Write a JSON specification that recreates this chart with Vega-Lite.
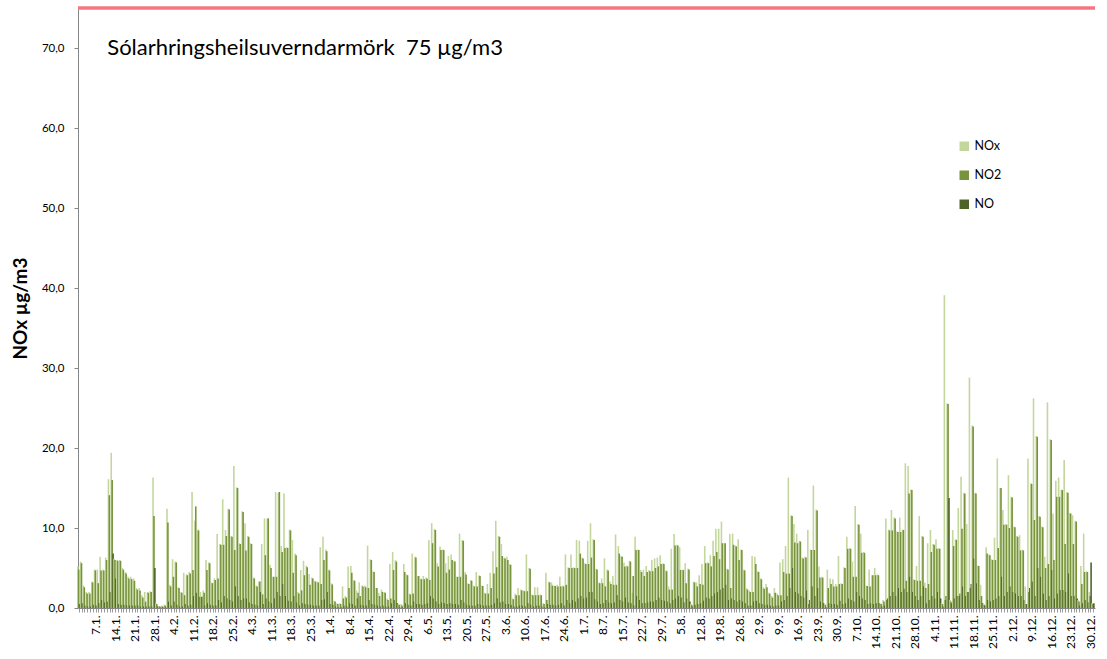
{
"$schema": "https://vega.github.io/schema/vega-lite/v6.json",
"width": 1017,
"height": 600,
"autosize": {"type": "none"},
"padding": {"left": 78, "top": 8, "right": 12, "bottom": 51},
"background": "white",
"config": {"view": {"stroke": null}, "font": "Lato"},
"datasets": {"days": [
{"d":"1.1.","NOx":5.2,"NO2":4.8,"NO":0.5},{"d":"2.1.","NOx":5.8,"NO2":5.6,"NO":0.6},{"d":"3.1.","NOx":2.8,"NO2":2.6,"NO":0.3},{"d":"4.1.","NOx":2.0,"NO2":1.8,"NO":0.2},{"d":"5.1.","NOx":2.0,"NO2":1.8,"NO":0.2},{"d":"6.1.","NOx":3.3,"NO2":3.2,"NO":0.4},{"d":"7.1.","NOx":4.8,"NO2":4.7,"NO":0.3},{"d":"8.1.","NOx":4.8,"NO2":3.1,"NO":0.6},{"d":"9.1.","NOx":6.4,"NO2":4.7,"NO":1.0},{"d":"10.1.","NOx":4.8,"NO2":4.7,"NO":0.7},
{"d":"11.1.","NOx":6.3,"NO2":6.0,"NO":0.8},{"d":"12.1.","NOx":16.1,"NO2":14.1,"NO":2.0},{"d":"13.1.","NOx":19.4,"NO2":16.0,"NO":6.8},{"d":"14.1.","NOx":6.2,"NO2":6.0,"NO":3.7},{"d":"15.1.","NOx":6.0,"NO2":5.9,"NO":0.5},{"d":"16.1.","NOx":6.0,"NO2":5.9,"NO":0.4},{"d":"17.1.","NOx":5.0,"NO2":4.8,"NO":0.4},{"d":"18.1.","NOx":4.5,"NO2":4.3,"NO":0.3},{"d":"19.1.","NOx":3.9,"NO2":3.7,"NO":0.3},{"d":"20.1.","NOx":3.9,"NO2":3.6,"NO":0.3},
{"d":"21.1.","NOx":3.7,"NO2":3.4,"NO":0.3},{"d":"22.1.","NOx":2.5,"NO2":2.3,"NO":0.3},{"d":"23.1.","NOx":2.5,"NO2":2.2,"NO":0.2},{"d":"24.1.","NOx":1.6,"NO2":1.3,"NO":0.2},{"d":"25.1.","NOx":2.0,"NO2":0.8,"NO":0.2},{"d":"26.1.","NOx":2.0,"NO2":1.9,"NO":0.2},{"d":"27.1.","NOx":2.1,"NO2":2.0,"NO":0.2},{"d":"28.1.","NOx":16.3,"NO2":11.5,"NO":5.0},{"d":"29.1.","NOx":0.6,"NO2":0.5,"NO":0.2},{"d":"30.1.","NOx":0.2,"NO2":0.2,"NO":0.1},
{"d":"31.1.","NOx":0.3,"NO2":0.2,"NO":0.1},{"d":"1.2.","NOx":0.4,"NO2":0.3,"NO":0.1},{"d":"2.2.","NOx":12.4,"NO2":10.7,"NO":0.8},{"d":"3.2.","NOx":2.9,"NO2":2.7,"NO":0.3},{"d":"4.2.","NOx":6.1,"NO2":3.9,"NO":0.8},{"d":"5.2.","NOx":5.8,"NO2":5.7,"NO":0.4},{"d":"6.2.","NOx":2.6,"NO2":2.5,"NO":0.2},{"d":"7.2.","NOx":2.0,"NO2":1.9,"NO":0.2},{"d":"8.2.","NOx":4.4,"NO2":1.6,"NO":0.5},{"d":"9.2.","NOx":4.2,"NO2":4.1,"NO":0.3},
{"d":"10.2.","NOx":4.5,"NO2":4.3,"NO":0.4},{"d":"11.2.","NOx":14.5,"NO2":4.75,"NO":1.5},{"d":"12.2.","NOx":10.9,"NO2":12.7,"NO":1.9},{"d":"13.2.","NOx":9.8,"NO2":9.7,"NO":1.4},{"d":"14.2.","NOx":2.0,"NO2":1.4,"NO":1.4},{"d":"15.2.","NOx":2.2,"NO2":1.9,"NO":0.3},{"d":"16.2.","NOx":6.0,"NO2":4.75,"NO":0.6},{"d":"17.2.","NOx":5.7,"NO2":5.6,"NO":0.4},{"d":"18.2.","NOx":3.2,"NO2":3.1,"NO":0.3},{"d":"19.2.","NOx":3.7,"NO2":3.5,"NO":0.3},
{"d":"20.2.","NOx":9.25,"NO2":3.7,"NO":1.0},{"d":"21.2.","NOx":8.0,"NO2":7.9,"NO":0.7},{"d":"22.2.","NOx":13.6,"NO2":7.9,"NO":1.5},{"d":"23.2.","NOx":9.75,"NO2":9.0,"NO":1.2},{"d":"24.2.","NOx":12.4,"NO2":12.3,"NO":1.0},{"d":"25.2.","NOx":9.0,"NO2":8.9,"NO":0.8},{"d":"26.2.","NOx":17.75,"NO2":7.25,"NO":2.7},{"d":"27.2.","NOx":15.1,"NO2":15.0,"NO":1.5},{"d":"28.2.","NOx":8.1,"NO2":8.0,"NO":1.0},
{"d":"1.3.","NOx":12.1,"NO2":12.0,"NO":1.2},{"d":"2.3.","NOx":10.6,"NO2":7.2,"NO":1.2},{"d":"3.3.","NOx":9.0,"NO2":8.9,"NO":0.7},{"d":"4.3.","NOx":8.1,"NO2":8.0,"NO":0.5},{"d":"5.3.","NOx":3.8,"NO2":3.7,"NO":0.4},{"d":"6.3.","NOx":2.8,"NO2":2.7,"NO":0.3},{"d":"7.3.","NOx":3.3,"NO2":3.3,"NO":2.0},{"d":"8.3.","NOx":8.0,"NO2":1.7,"NO":0.5},{"d":"9.3.","NOx":11.2,"NO2":6.6,"NO":1.2},{"d":"10.3.","NOx":11.2,"NO2":11.2,"NO":0.8},
{"d":"11.3.","NOx":5.4,"NO2":5.0,"NO":0.6},{"d":"12.3.","NOx":3.9,"NO2":3.9,"NO":1.2},{"d":"13.3.","NOx":14.5,"NO2":3.9,"NO":2.0},{"d":"14.3.","NOx":14.4,"NO2":14.5,"NO":1.5},{"d":"15.3.","NOx":7.75,"NO2":7.0,"NO":3.0},{"d":"16.3.","NOx":14.3,"NO2":7.5,"NO":1.5},{"d":"17.3.","NOx":7.6,"NO2":7.5,"NO":0.9},{"d":"18.3.","NOx":9.8,"NO2":9.7,"NO":0.8},{"d":"19.3.","NOx":8.5,"NO2":4.4,"NO":1.5},{"d":"20.3.","NOx":6.8,"NO2":6.6,"NO":0.7},
{"d":"21.3.","NOx":2.0,"NO2":1.8,"NO":0.3},{"d":"22.3.","NOx":4.75,"NO2":2.2,"NO":0.6},{"d":"23.3.","NOx":5.9,"NO2":4.1,"NO":0.5},{"d":"24.3.","NOx":5.3,"NO2":5.1,"NO":0.4},{"d":"25.3.","NOx":4.25,"NO2":2.9,"NO":0.4},{"d":"26.3.","NOx":3.8,"NO2":3.7,"NO":0.3},{"d":"27.3.","NOx":3.4,"NO2":3.3,"NO":0.3},{"d":"28.3.","NOx":3.3,"NO2":3.2,"NO":0.3},{"d":"29.3.","NOx":7.6,"NO2":3.0,"NO":1.0},{"d":"30.3.","NOx":8.9,"NO2":6.0,"NO":1.1},
{"d":"31.3.","NOx":7.3,"NO2":7.1,"NO":2.0},{"d":"1.4.","NOx":4.8,"NO2":4.7,"NO":0.5},{"d":"2.4.","NOx":3.1,"NO2":2.95,"NO":0.4},{"d":"3.4.","NOx":0.9,"NO2":0.8,"NO":0.2},{"d":"4.4.","NOx":0.6,"NO2":0.5,"NO":0.1},{"d":"5.4.","NOx":0.6,"NO2":0.5,"NO":0.1},{"d":"6.4.","NOx":2.7,"NO2":1.2,"NO":0.3},{"d":"7.4.","NOx":1.5,"NO2":1.3,"NO":0.2},{"d":"8.4.","NOx":5.2,"NO2":2.5,"NO":0.6},{"d":"9.4.","NOx":5.25,"NO2":4.4,"NO":0.5},
{"d":"10.4.","NOx":3.5,"NO2":3.4,"NO":0.3},{"d":"11.4.","NOx":2.2,"NO2":1.2,"NO":1.9},{"d":"12.4.","NOx":3.2,"NO2":1.5,"NO":0.4},{"d":"13.4.","NOx":2.8,"NO2":2.7,"NO":0.3},{"d":"14.4.","NOx":2.8,"NO2":2.6,"NO":0.3},{"d":"15.4.","NOx":7.8,"NO2":2.5,"NO":1.0},{"d":"16.4.","NOx":6.1,"NO2":6.0,"NO":0.5},{"d":"17.4.","NOx":4.6,"NO2":4.5,"NO":0.4},{"d":"18.4.","NOx":2.5,"NO2":2.5,"NO":0.3},{"d":"19.4.","NOx":1.9,"NO2":1.5,"NO":0.2},
{"d":"20.4.","NOx":2.3,"NO2":2.0,"NO":0.3},{"d":"21.4.","NOx":2.0,"NO2":1.9,"NO":0.2},{"d":"22.4.","NOx":1.2,"NO2":1.0,"NO":0.2},{"d":"23.4.","NOx":5.5,"NO2":1.2,"NO":0.6},{"d":"24.4.","NOx":7.0,"NO2":4.75,"NO":1.0},{"d":"25.4.","NOx":6.0,"NO2":5.8,"NO":0.6},{"d":"26.4.","NOx":0.5,"NO2":0.4,"NO":0.1},{"d":"27.4.","NOx":0.5,"NO2":0.3,"NO":0.1},{"d":"28.4.","NOx":5.5,"NO2":4.5,"NO":0.6},{"d":"29.4.","NOx":4.2,"NO2":4.1,"NO":0.4},
{"d":"30.4.","NOx":1.8,"NO2":1.7,"NO":0.3},{"d":"1.5.","NOx":6.8,"NO2":1.8,"NO":0.8},{"d":"2.5.","NOx":6.4,"NO2":6.3,"NO":0.5},{"d":"3.5.","NOx":4.0,"NO2":4.0,"NO":0.5},{"d":"4.5.","NOx":3.7,"NO2":3.6,"NO":0.4},{"d":"5.5.","NOx":4.0,"NO2":3.6,"NO":0.5},{"d":"6.5.","NOx":3.8,"NO2":3.7,"NO":0.6},{"d":"7.5.","NOx":8.5,"NO2":3.5,"NO":1.5},{"d":"8.5.","NOx":10.6,"NO2":8.1,"NO":1.2},{"d":"9.5.","NOx":9.9,"NO2":9.75,"NO":0.8},
{"d":"10.5.","NOx":5.6,"NO2":5.2,"NO":0.5},{"d":"11.5.","NOx":7.7,"NO2":7.25,"NO":0.7},{"d":"12.5.","NOx":7.3,"NO2":7.25,"NO":0.6},{"d":"13.5.","NOx":5.6,"NO2":4.4,"NO":0.5},{"d":"14.5.","NOx":6.5,"NO2":4.8,"NO":0.6},{"d":"15.5.","NOx":6.7,"NO2":6.0,"NO":0.5},{"d":"16.5.","NOx":5.9,"NO2":5.8,"NO":0.5},{"d":"17.5.","NOx":3.9,"NO2":3.9,"NO":0.4},{"d":"18.5.","NOx":9.3,"NO2":3.9,"NO":1.0},{"d":"19.5.","NOx":8.5,"NO2":8.4,"NO":0.7},
{"d":"20.5.","NOx":4.5,"NO2":4.2,"NO":0.4},{"d":"21.5.","NOx":3.1,"NO2":3.0,"NO":0.3},{"d":"22.5.","NOx":3.5,"NO2":3.4,"NO":0.3},{"d":"23.5.","NOx":2.8,"NO2":2.7,"NO":0.3},{"d":"24.5.","NOx":4.5,"NO2":2.7,"NO":0.5},{"d":"25.5.","NOx":4.1,"NO2":4.0,"NO":0.4},{"d":"26.5.","NOx":2.8,"NO2":2.75,"NO":0.3},{"d":"27.5.","NOx":1.9,"NO2":1.8,"NO":0.3},{"d":"28.5.","NOx":3.0,"NO2":1.8,"NO":0.3},{"d":"29.5.","NOx":4.4,"NO2":2.5,"NO":0.4},
{"d":"30.5.","NOx":7.1,"NO2":4.3,"NO":0.6},{"d":"31.5.","NOx":10.9,"NO2":5.1,"NO":1.2},{"d":"1.6.","NOx":9.0,"NO2":8.9,"NO":0.7},{"d":"2.6.","NOx":8.0,"NO2":6.5,"NO":0.8},{"d":"3.6.","NOx":6.3,"NO2":6.2,"NO":0.5},{"d":"4.6.","NOx":6.4,"NO2":6.0,"NO":0.5},{"d":"5.6.","NOx":5.5,"NO2":5.4,"NO":0.4},{"d":"6.6.","NOx":1.2,"NO2":1.1,"NO":0.2},{"d":"7.6.","NOx":1.8,"NO2":1.6,"NO":0.2},{"d":"8.6.","NOx":2.5,"NO2":1.6,"NO":0.3},
{"d":"9.6.","NOx":2.3,"NO2":2.2,"NO":0.3},{"d":"10.6.","NOx":2.2,"NO2":2.1,"NO":0.2},{"d":"11.6.","NOx":6.7,"NO2":2.1,"NO":0.6},{"d":"12.6.","NOx":5.0,"NO2":4.9,"NO":0.4},{"d":"13.6.","NOx":1.7,"NO2":1.6,"NO":0.2},{"d":"14.6.","NOx":2.6,"NO2":1.6,"NO":0.3},{"d":"15.6.","NOx":2.6,"NO2":1.6,"NO":0.3},{"d":"16.6.","NOx":1.7,"NO2":1.6,"NO":0.2},{"d":"17.6.","NOx":0.6,"NO2":0.5,"NO":0.1},{"d":"18.6.","NOx":4.4,"NO2":1.0,"NO":0.5},
{"d":"19.6.","NOx":3.3,"NO2":3.2,"NO":0.4},{"d":"20.6.","NOx":3.2,"NO2":2.8,"NO":0.4},{"d":"21.6.","NOx":2.8,"NO2":2.75,"NO":0.3},{"d":"22.6.","NOx":2.9,"NO2":2.7,"NO":0.4},{"d":"23.6.","NOx":3.9,"NO2":2.7,"NO":0.6},{"d":"24.6.","NOx":2.8,"NO2":2.7,"NO":0.3},{"d":"25.6.","NOx":6.7,"NO2":2.9,"NO":1.0},{"d":"26.6.","NOx":5.1,"NO2":5.0,"NO":0.6},{"d":"27.6.","NOx":6.7,"NO2":5.0,"NO":1.0},{"d":"28.6.","NOx":5.1,"NO2":5.0,"NO":0.8},
{"d":"29.6.","NOx":8.5,"NO2":5.0,"NO":1.2},{"d":"30.6.","NOx":8.4,"NO2":6.8,"NO":1.5},{"d":"1.7.","NOx":6.3,"NO2":6.2,"NO":1.2},{"d":"2.7.","NOx":5.6,"NO2":5.5,"NO":1.3},{"d":"3.7.","NOx":8.4,"NO2":5.5,"NO":2.0},{"d":"4.7.","NOx":10.6,"NO2":6.3,"NO":2.0},{"d":"5.7.","NOx":8.6,"NO2":8.5,"NO":1.1},{"d":"6.7.","NOx":4.9,"NO2":4.8,"NO":0.8},{"d":"7.7.","NOx":3.2,"NO2":3.1,"NO":0.5},{"d":"8.7.","NOx":3.7,"NO2":3.1,"NO":0.6},
{"d":"9.7.","NOx":6.2,"NO2":2.7,"NO":1.0},{"d":"10.7.","NOx":4.8,"NO2":4.7,"NO":0.7},{"d":"11.7.","NOx":3.3,"NO2":3.0,"NO":0.6},{"d":"12.7.","NOx":4.0,"NO2":2.9,"NO":0.7},{"d":"13.7.","NOx":9.2,"NO2":2.9,"NO":1.6},{"d":"14.7.","NOx":7.75,"NO2":6.8,"NO":1.0},{"d":"15.7.","NOx":6.5,"NO2":6.4,"NO":0.8},{"d":"16.7.","NOx":5.7,"NO2":5.2,"NO":1.3},{"d":"17.7.","NOx":5.3,"NO2":5.2,"NO":0.7},{"d":"18.7.","NOx":5.9,"NO2":5.8,"NO":0.6},
{"d":"19.7.","NOx":1.9,"NO2":4.0,"NO":0.3},{"d":"20.7.","NOx":8.9,"NO2":7.25,"NO":1.5},{"d":"21.7.","NOx":7.3,"NO2":7.25,"NO":1.0},{"d":"22.7.","NOx":4.75,"NO2":4.5,"NO":0.6},{"d":"23.7.","NOx":4.8,"NO2":4.0,"NO":0.6},{"d":"24.7.","NOx":5.25,"NO2":4.5,"NO":0.7},{"d":"25.7.","NOx":4.75,"NO2":4.6,"NO":0.8},{"d":"26.7.","NOx":6.0,"NO2":4.6,"NO":0.8},{"d":"27.7.","NOx":6.2,"NO2":5.0,"NO":1.0},{"d":"28.7.","NOx":6.3,"NO2":5.2,"NO":1.3},
{"d":"29.7.","NOx":6.6,"NO2":5.5,"NO":1.0},{"d":"30.7.","NOx":5.6,"NO2":5.5,"NO":0.9},{"d":"31.7.","NOx":4.7,"NO2":4.6,"NO":0.8},{"d":"1.8.","NOx":2.7,"NO2":2.3,"NO":0.6},{"d":"2.8.","NOx":7.4,"NO2":2.3,"NO":1.0},{"d":"3.8.","NOx":9.25,"NO2":7.8,"NO":1.2},{"d":"4.8.","NOx":7.9,"NO2":7.8,"NO":1.5},{"d":"5.8.","NOx":7.6,"NO2":4.75,"NO":1.3},{"d":"6.8.","NOx":4.8,"NO2":4.75,"NO":0.7},{"d":"7.8.","NOx":5.6,"NO2":3.1,"NO":1.2},
{"d":"8.8.","NOx":4.9,"NO2":4.8,"NO":0.8},{"d":"9.8.","NOx":0.5,"NO2":0.4,"NO":0.2},{"d":"10.8.","NOx":3.3,"NO2":3.2,"NO":0.4},{"d":"11.8.","NOx":3.2,"NO2":2.7,"NO":0.5},{"d":"12.8.","NOx":4.1,"NO2":3.0,"NO":0.6},{"d":"13.8.","NOx":5.5,"NO2":2.9,"NO":0.9},{"d":"14.8.","NOx":7.75,"NO2":5.6,"NO":1.3},{"d":"15.8.","NOx":5.7,"NO2":5.6,"NO":1.2},{"d":"16.8.","NOx":6.6,"NO2":5.2,"NO":1.5},{"d":"17.8.","NOx":8.4,"NO2":6.5,"NO":1.8},
{"d":"18.8.","NOx":9.9,"NO2":7.0,"NO":2.0},{"d":"19.8.","NOx":9.9,"NO2":6.1,"NO":2.3},{"d":"20.8.","NOx":10.8,"NO2":8.1,"NO":2.5},{"d":"21.8.","NOx":8.1,"NO2":8.1,"NO":2.9},{"d":"22.8.","NOx":4.9,"NO2":4.8,"NO":1.0},{"d":"23.8.","NOx":9.25,"NO2":2.5,"NO":1.2},{"d":"24.8.","NOx":9.3,"NO2":7.9,"NO":1.0},{"d":"25.8.","NOx":7.8,"NO2":7.7,"NO":0.8},{"d":"26.8.","NOx":8.6,"NO2":6.0,"NO":1.0},{"d":"27.8.","NOx":7.3,"NO2":7.25,"NO":0.8},
{"d":"28.8.","NOx":4.8,"NO2":4.7,"NO":0.6},{"d":"29.8.","NOx":2.5,"NO2":2.3,"NO":0.3},{"d":"30.8.","NOx":2.2,"NO2":2.0,"NO":0.3},{"d":"31.8.","NOx":6.5,"NO2":2.0,"NO":0.8},{"d":"1.9.","NOx":6.4,"NO2":5.5,"NO":0.9},{"d":"2.9.","NOx":4.6,"NO2":4.5,"NO":0.6},{"d":"3.9.","NOx":3.7,"NO2":3.6,"NO":0.5},{"d":"4.9.","NOx":2.6,"NO2":2.4,"NO":0.4},{"d":"5.9.","NOx":3.0,"NO2":2.6,"NO":0.4},{"d":"6.9.","NOx":1.9,"NO2":1.8,"NO":0.3},
{"d":"7.9.","NOx":1.5,"NO2":1.3,"NO":0.2},{"d":"8.9.","NOx":2.5,"NO2":1.9,"NO":0.3},{"d":"9.9.","NOx":1.8,"NO2":1.6,"NO":0.3},{"d":"10.9.","NOx":5.7,"NO2":1.6,"NO":0.8},{"d":"11.9.","NOx":6.1,"NO2":4.5,"NO":1.0},{"d":"12.9.","NOx":7.75,"NO2":4.3,"NO":1.5},{"d":"13.9.","NOx":16.3,"NO2":4.3,"NO":2.5},{"d":"14.9.","NOx":11.6,"NO2":11.5,"NO":5.0},{"d":"15.9.","NOx":10.5,"NO2":8.2,"NO":2.0},{"d":"16.9.","NOx":9.3,"NO2":8.1,"NO":1.8},
{"d":"17.9.","NOx":8.4,"NO2":8.3,"NO":1.5},{"d":"18.9.","NOx":6.3,"NO2":6.2,"NO":1.3},{"d":"19.9.","NOx":6.4,"NO2":6.3,"NO":2.2},{"d":"20.9.","NOx":9.75,"NO2":0.5,"NO":1.0},{"d":"21.9.","NOx":7.3,"NO2":7.25,"NO":2.7},{"d":"22.9.","NOx":15.3,"NO2":7.25,"NO":1.5},{"d":"23.9.","NOx":12.3,"NO2":12.2,"NO":2.5},{"d":"24.9.","NOx":5.2,"NO2":3.8,"NO":0.8},{"d":"25.9.","NOx":3.9,"NO2":3.8,"NO":0.6},{"d":"26.9.","NOx":0.5,"NO2":0.4,"NO":0.1},
{"d":"27.9.","NOx":4.8,"NO2":2.5,"NO":0.6},{"d":"28.9.","NOx":3.7,"NO2":3.0,"NO":0.5},{"d":"29.9.","NOx":3.6,"NO2":2.7,"NO":0.5},{"d":"30.9.","NOx":3.0,"NO2":2.7,"NO":0.4},{"d":"1.10.","NOx":6.5,"NO2":3.0,"NO":0.9},{"d":"2.10.","NOx":3.1,"NO2":3.0,"NO":0.5},{"d":"3.10.","NOx":5.1,"NO2":5.0,"NO":0.6},{"d":"4.10.","NOx":8.9,"NO2":7.4,"NO":1.2},{"d":"5.10.","NOx":7.5,"NO2":7.4,"NO":1.0},{"d":"6.10.","NOx":5.8,"NO2":3.9,"NO":0.8},
{"d":"7.10.","NOx":12.75,"NO2":3.9,"NO":2.0},{"d":"8.10.","NOx":10.5,"NO2":10.4,"NO":1.5},{"d":"9.10.","NOx":9.3,"NO2":6.9,"NO":1.2},{"d":"10.10.","NOx":7.0,"NO2":6.9,"NO":1.0},{"d":"11.10.","NOx":2.8,"NO2":2.75,"NO":0.5},{"d":"12.10.","NOx":4.8,"NO2":2.7,"NO":0.6},{"d":"13.10.","NOx":4.1,"NO2":4.1,"NO":0.5},{"d":"14.10.","NOx":5.0,"NO2":4.1,"NO":0.6},{"d":"15.10.","NOx":4.2,"NO2":4.1,"NO":0.6},{"d":"16.10.","NOx":0.6,"NO2":0.5,"NO":0.2},
{"d":"17.10.","NOx":1.0,"NO2":0.8,"NO":0.3},{"d":"18.10.","NOx":11.2,"NO2":1.0,"NO":1.2},{"d":"19.10.","NOx":9.8,"NO2":9.7,"NO":1.5},{"d":"20.10.","NOx":12.25,"NO2":9.7,"NO":2.0},{"d":"21.10.","NOx":11.3,"NO2":11.2,"NO":1.5},{"d":"22.10.","NOx":9.6,"NO2":9.5,"NO":2.5},{"d":"23.10.","NOx":11.3,"NO2":9.5,"NO":2.0},{"d":"24.10.","NOx":9.8,"NO2":9.75,"NO":2.4},{"d":"25.10.","NOx":18.1,"NO2":3.4,"NO":2.0},{"d":"26.10.","NOx":17.75,"NO2":14.3,"NO":3.9},
{"d":"27.10.","NOx":14.8,"NO2":14.75,"NO":2.0},{"d":"28.10.","NOx":3.6,"NO2":3.5,"NO":1.5},{"d":"29.10.","NOx":5.25,"NO2":3.4,"NO":1.0},{"d":"30.10.","NOx":11.5,"NO2":3.4,"NO":1.5},{"d":"31.10.","NOx":9.0,"NO2":8.9,"NO":2.7},{"d":"1.11.","NOx":3.2,"NO2":2.5,"NO":0.6},{"d":"2.11.","NOx":8.1,"NO2":3.0,"NO":1.0},{"d":"3.11.","NOx":9.75,"NO2":7.0,"NO":1.5},{"d":"4.11.","NOx":8.0,"NO2":7.9,"NO":1.2},{"d":"5.11.","NOx":8.6,"NO2":7.4,"NO":2.0},
{"d":"6.11.","NOx":7.5,"NO2":7.4,"NO":1.2},{"d":"7.11.","NOx":0.6,"NO2":0.5,"NO":0.2},{"d":"8.11.","NOx":39.1,"NO2":1.0,"NO":1.5},{"d":"9.11.","NOx":25.6,"NO2":25.5,"NO":13.75},{"d":"10.11.","NOx":1.0,"NO2":0.8,"NO":0.6},{"d":"11.11.","NOx":9.75,"NO2":7.75,"NO":1.2},{"d":"12.11.","NOx":8.6,"NO2":8.5,"NO":1.5},{"d":"13.11.","NOx":12.5,"NO2":1.5,"NO":1.8},{"d":"14.11.","NOx":16.4,"NO2":9.9,"NO":2.7},{"d":"15.11.","NOx":14.4,"NO2":14.3,"NO":1.5},
{"d":"16.11.","NOx":10.5,"NO2":2.0,"NO":2.0},{"d":"17.11.","NOx":28.8,"NO2":2.5,"NO":3.0},{"d":"18.11.","NOx":22.8,"NO2":22.7,"NO":6.2},{"d":"19.11.","NOx":14.4,"NO2":14.3,"NO":3.1},{"d":"20.11.","NOx":5.3,"NO2":5.25,"NO":1.0},{"d":"21.11.","NOx":2.9,"NO2":1.5,"NO":0.6},{"d":"22.11.","NOx":0.5,"NO2":0.4,"NO":0.3},{"d":"23.11.","NOx":7.6,"NO2":6.8,"NO":1.0},{"d":"24.11.","NOx":6.7,"NO2":6.6,"NO":0.8},{"d":"25.11.","NOx":6.1,"NO2":6.0,"NO":1.0},
{"d":"26.11.","NOx":8.8,"NO2":6.0,"NO":1.2},{"d":"27.11.","NOx":18.7,"NO2":7.5,"NO":1.5},{"d":"28.11.","NOx":15.0,"NO2":15.0,"NO":3.9},{"d":"29.11.","NOx":12.25,"NO2":10.4,"NO":1.5},{"d":"30.11.","NOx":10.5,"NO2":10.4,"NO":2.0},{"d":"1.12.","NOx":16.6,"NO2":10.0,"NO":2.7},{"d":"2.12.","NOx":13.9,"NO2":13.8,"NO":2.0},{"d":"3.12.","NOx":10.2,"NO2":10.1,"NO":1.8},{"d":"4.12.","NOx":9.0,"NO2":8.9,"NO":1.5},{"d":"5.12.","NOx":9.1,"NO2":7.2,"NO":1.5},
{"d":"6.12.","NOx":7.3,"NO2":7.2,"NO":1.0},{"d":"7.12.","NOx":2.7,"NO2":0.5,"NO":0.5},{"d":"8.12.","NOx":18.7,"NO2":2.0,"NO":2.5},{"d":"9.12.","NOx":15.6,"NO2":15.5,"NO":3.3},{"d":"10.12.","NOx":26.2,"NO2":11.0,"NO":1.5},{"d":"11.12.","NOx":21.5,"NO2":21.4,"NO":5.0},{"d":"12.12.","NOx":11.5,"NO2":11.4,"NO":3.9},{"d":"13.12.","NOx":10.2,"NO2":10.1,"NO":1.8},{"d":"14.12.","NOx":6.4,"NO2":5.0,"NO":1.0},{"d":"15.12.","NOx":25.7,"NO2":5.5,"NO":1.5},
{"d":"16.12.","NOx":21.1,"NO2":21.0,"NO":4.75},{"d":"17.12.","NOx":11.8,"NO2":6.0,"NO":1.2},{"d":"18.12.","NOx":15.9,"NO2":13.9,"NO":1.8},{"d":"19.12.","NOx":16.3,"NO2":13.9,"NO":2.25},{"d":"20.12.","NOx":14.8,"NO2":14.75,"NO":2.25},{"d":"21.12.","NOx":18.5,"NO2":8.0,"NO":2.0},{"d":"22.12.","NOx":14.5,"NO2":14.4,"NO":4.3},{"d":"23.12.","NOx":11.9,"NO2":11.8,"NO":1.5},{"d":"24.12.","NOx":11.6,"NO2":8.0,"NO":1.5},{"d":"25.12.","NOx":10.9,"NO2":10.8,"NO":1.2},
{"d":"26.12.","NOx":1.0,"NO2":0.8,"NO":0.3},{"d":"27.12.","NOx":5.25,"NO2":3.0,"NO":0.6},{"d":"28.12.","NOx":9.3,"NO2":4.5,"NO":1.0},{"d":"29.12.","NOx":4.6,"NO2":4.5,"NO":0.7},{"d":"30.12.","NOx":2.0,"NO2":1.5,"NO":5.7},{"d":"31.12.","NOx":0.6,"NO2":0.5,"NO":0.6}
]},
"layer": [
{
"data": {"name": "days"},
"transform": [{"fold": ["NOx", "NO2", "NO"], "as": ["s", "v"]}],
"mark": {"type": "bar", "width": {"band": 1.7}},
"encoding": {
"x": {"field": "d", "type": "ordinal", "sort": null,
"scale": {"paddingInner": 0, "paddingOuter": 0},
"axis": {"title": null, "labelAngle": -90, "labelFontSize": 12, "labelColor": "#000000", "labelPadding": 3, "labelOverlap": false,
"labelExpr": "indexof(['7.1.','14.1.','21.1.','28.1.','4.2.','11.2.','18.2.','25.2.','4.3.','11.3.','18.3.','25.3.','1.4.','8.4.','15.4.','22.4.','29.4.','6.5.','13.5.','20.5.','27.5.','3.6.','10.6.','17.6.','24.6.','1.7.','8.7.','15.7.','22.7.','29.7.','5.8.','12.8.','19.8.','26.8.','2.9.','9.9.','16.9.','23.9.','30.9.','7.10.','14.10.','21.10.','28.10.','4.11.','11.11.','18.11.','25.11.','2.12.','9.12.','16.12.','23.12.','30.12.'], datum.value) >= 0 ? datum.value : ''",
"tickSize": 4, "tickColor": "#9a9a9a", "domainColor": "#868686", "grid": false}},
"xOffset": {"field": "s", "type": "nominal", "sort": ["NOx", "NO2", "NO"], "scale": {"paddingInner": 0, "paddingOuter": 0}},
"y": {"field": "v", "type": "quantitative", "scale": {"domain": [0, 75], "nice": false},
"axis": {"values": [0, 10, 20, 30, 40, 50, 60, 70], "labelExpr": "replace(format(datum.value, '.1f'), '.', ',')", "title": "NOx µg/m3", "titleFontSize": 19, "titleFontWeight": "bold", "titleColor": "#000000", "titlePadding": 11, "labelFontSize": 11.5, "labelColor": "#000000", "labelPadding": 10, "grid": false, "tickSize": 4, "tickColor": "#868686", "domainColor": "#868686"}},
"color": {"field": "s", "type": "nominal",
"scale": {"domain": ["NOx", "NO2", "NO"], "range": ["#C3D69B", "#77933C", "#4F6228"]},
"legend": {"title": null, "orient": "none", "legendX": 880, "legendY": 132, "symbolType": "square", "symbolSize": 90, "symbolStrokeWidth": 0, "labelFontSize": 12.5, "labelColor": "#000000", "rowPadding": 16, "padding": 0}}
}
},
{
"data": {"values": [{}]},
"mark": {"type": "rule", "color": "#F4777F", "strokeWidth": 3.5},
"encoding": {"y": {"datum": 75, "type": "quantitative"}}
},
{
"data": {"values": [{}]},
"mark": {"type": "text", "text": "Sólarhringsheilsuverndarmörk\u00a0\u00a075 µg/m3", "fontSize": 22, "align": "left", "baseline": "middle", "color": "#000000", "font": "Lato"},
"encoding": {"x": {"datum": "11.1.", "type": "ordinal"}, "y": {"datum": 70, "type": "quantitative"}}
}
]
}
